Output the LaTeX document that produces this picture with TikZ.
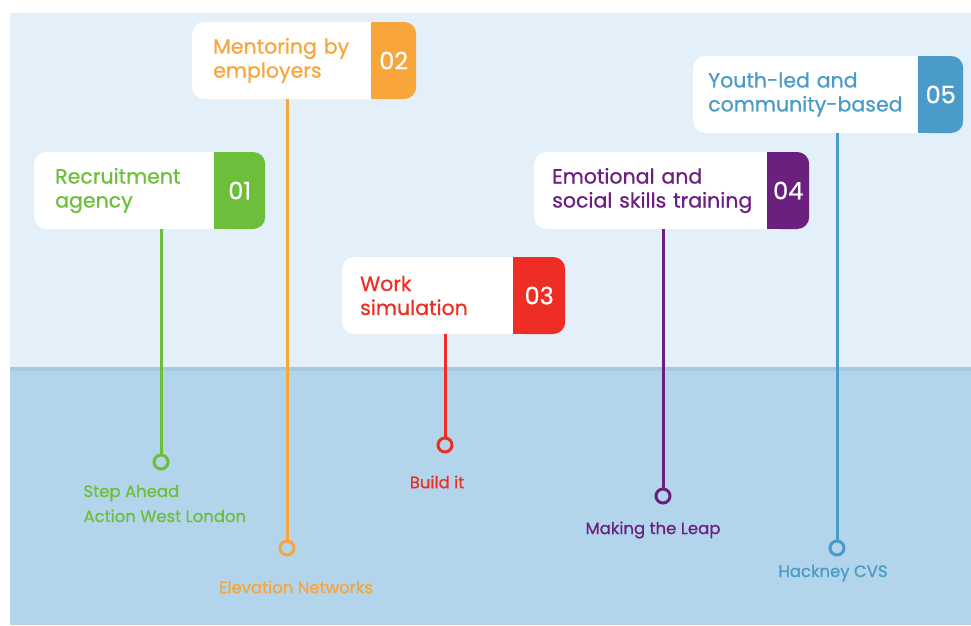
\documentclass[tikz,border=0pt]{standalone}
\usepackage{fontspec}
\setmainfont{Poppins}[FakeBold=0.7]
\usetikzlibrary{positioning}

\definecolor{skybg}{HTML}{E3EFF9}
\definecolor{seabg}{HTML}{B2D5EC}
\definecolor{seaedge}{HTML}{A3CBE5}
\definecolor{cgreen}{HTML}{6DBE3B}
\definecolor{corange}{HTML}{F8A53B}
\definecolor{cred}{HTML}{EE2E24}
\definecolor{cpurple}{HTML}{6B1F7F}
\definecolor{cblue}{HTML}{4A9BC8}

\tikzset{
    card/.style={rectangle, rounded corners=12pt, fill=white, anchor=west, minimum height=77pt, inner xsep=21pt, inner ysep=0pt, align=left, font=\fontsize{20.5}{24}\selectfont},
    tab/.style={rectangle, rounded corners=12pt, anchor=west, minimum height=77pt, inner sep=0pt, text=white, font=\fontsize{24}{24}\selectfont},
    stem/.style={line width=3pt},
    dot/.style={circle, draw, line width=3pt, fill=seabg, minimum size=14pt, inner sep=0pt},
    org/.style={align=left, font=\fontsize{16.5}{25}\selectfont}
}

\begin{document}
\begin{tikzpicture}[x=1pt, y=-1pt]
    % sky and sea
    \useasboundingbox (0,0) rectangle (971,625);
    \fill[white] (0,0) rectangle (971,625);
    \fill[skybg] (10,13) rectangle (971,368);
    \fill[seabg] (10,368) rectangle (971,625);
    \fill[seaedge] (10,367) rectangle (971,371);

    % cards
    \node (card1) [card, text width=150pt, text=cgreen] at (34, 190.5) {Recruitment\\agency};
    \node (card2) [card, text width=149pt, text=corange] at (192, 60.5) {Mentoring by\\employers};
    \node (card3) [card, text width=147pt, text=cred, inner xsep=18pt] at (342, 295.5) {Work\\simulation};
    \node (card4) [card, text width=209pt, text=cpurple, inner xsep=18pt] at (534, 190.5) {Emotional and\\social skills training};
    \node (card5) [card, text width=207pt, text=cblue, inner xsep=15pt] at (693, 94.5) {Youth-led and\\community-based};

    % square joint under each tab
    \fill[cgreen] ([xshift=-12pt]card1.north east) rectangle (card1.south east);
    \fill[corange] ([xshift=-12pt]card2.north east) rectangle (card2.south east);
    \fill[cred] ([xshift=-12pt]card3.north east) rectangle (card3.south east);
    \fill[cpurple] ([xshift=-12pt]card4.north east) rectangle (card4.south east);
    \fill[cblue] ([xshift=-12pt]card5.north east) rectangle (card5.south east);

    % number tabs
    \node (num1) [tab, fill=cgreen, minimum width=51pt] at (214, 190.5) {01};
    \node (num2) [tab, fill=corange, minimum width=45pt] at (371, 60.5) {02};
    \node (num3) [tab, fill=cred, minimum width=52pt] at (513, 295.5) {03};
    \node (num4) [tab, fill=cpurple, minimum width=42pt] at (767, 190.5) {04};
    \node (num5) [tab, fill=cblue, minimum width=45pt] at (918, 94.5) {05};

    % dots
    \node (d1) [dot, draw=cgreen] at (161, 462) {};
    \node (d2) [dot, draw=corange] at (287, 548) {};
    \node (d3) [dot, draw=cred] at (445, 445) {};
    \node (d4) [dot, draw=cpurple] at (663, 496) {};
    \node (d5) [dot, draw=cblue] at (837, 548) {};

    \draw[stem, cgreen] (d1 |- card1.south) -- (d1);
    \draw[stem, corange] (d2 |- card2.south) -- (d2);
    \draw[stem, cred] (d3 |- card3.south) -- (d3);
    \draw[stem, cpurple] (d4 |- card4.south) -- (d4);
    \draw[stem, cblue] (d5 |- card5.south) -- (d5);

    % organisations
    \node (org1) [org, anchor=west, text=cgreen] at (80, 503.5) {Step Ahead\\Action West London};
    \node (org2) [org, text=corange] at (296, 587) {Elevation Networks};
    \node (org3) [org, text=cred] at (437, 482) {Build it};
    \node (org4) [org, text=cpurple] at (653, 530) {Making the Leap};
    \node (org5) [org, text=cblue] at (833, 573) {Hackney CVS};
\end{tikzpicture}
\end{document}
